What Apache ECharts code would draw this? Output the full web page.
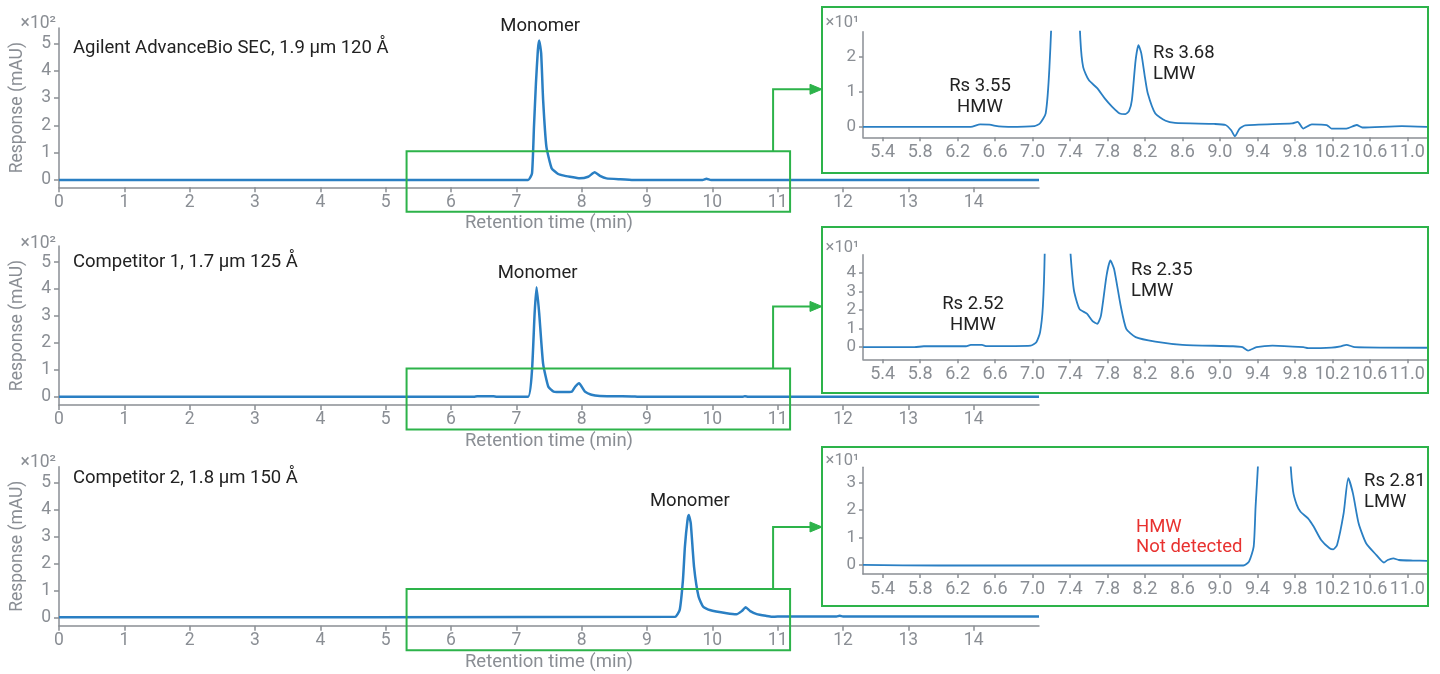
<!DOCTYPE html>
<html>
<head>
<meta charset="utf-8">
<script src="https://cdn.jsdelivr.net/npm/echarts@6/dist/echarts.min.js"></script>
<style>
html,body{margin:0;padding:0;background:#fff;}
#chart{width:1440px;height:674px;}
</style>
</head>
<body>
<div id="chart"></div>
<script>
// ---------------- DATA ----------------
const sampleNames = ['Agilent AdvanceBio SEC, 1.9 µm 120 Å', 'Competitor 1, 1.7 µm 125 Å', 'Competitor 2, 1.8 µm 150 Å'];
const mainXTicks = [0,1,2,3,4,5,6,7,8,9,10,11,12,13,14];
const mainYTicks = [0,100,200,300,400,500];           // mAU, shown ×10²
const insetXTicks = [5.4,5.8,6.2,6.6,7.0,7.4,7.8,8.2,8.6,9.0,9.4,9.8,10.2,10.6,11.0];
const insetYTicks1 = [0,10,20];                         // mAU, shown ×10¹
const insetYTicks2 = [0,10,20,30,40];
const insetYTicks3 = [0,10,20,30];

// full chromatograms [time (min), response (mAU)]
const agilentMain = [[0,0],[7.18,0],[7.24,24],[7.27,195],[7.30,354],[7.33,476],[7.35,510],[7.38,463],[7.41,293],[7.46,122],[7.54,43],[7.64,22],[7.73,16],[7.82,12],[7.97,6],[8.1,12],[8.2,28],[8.28,15],[8.38,6],[8.59,2.5],[8.79,0],[9.85,0],[9.91,5],[9.98,0],[15,0]];
const comp1Main = [[0,0],[6.35,0],[6.4,1.5],[6.65,1.5],[6.7,0],[7.18,0],[7.24,99],[7.28,310],[7.31,407],[7.35,310],[7.41,122],[7.49,37],[7.57,19],[7.72,17],[7.85,19],[7.9,37],[7.96,50],[8.05,19],[8.15,7],[8.28,3],[8.79,1],[8.85,0],[10.47,0],[10.5,2],[10.55,0],[15,0]];
const comp2Main = [[0,0],[9.43,2],[9.50,27],[9.55,138],[9.58,261],[9.62,360],[9.64,379],[9.67,348],[9.72,187],[9.79,76],[9.86,39],[9.96,27],[10.22,15],[10.37,11],[10.45,23],[10.51,37],[10.58,23],[10.68,12],[10.83,5],[10.91,2],[11.0,3],[11.9,3],[11.95,6],[12.0,3],[15,3]];

// zoomed chromatograms [time (min), response (mAU)]
const agilentZoom = [[5.19,0],[6.34,0],[6.44,0.7],[6.54,0.6],[6.64,0.1],[6.74,0],[7.02,0.2],[7.08,1],[7.14,3.8],[7.18,17],[7.21,40],[7.34,510],[7.46,300],[7.495,40],[7.51,25],[7.54,17],[7.6,13.3],[7.69,11],[7.77,8.1],[7.85,5.7],[7.93,3.8],[7.99,3.6],[8.03,4.5],[8.06,7.6],[8.1,19],[8.13,23.3],[8.16,21],[8.2,14],[8.23,9.5],[8.31,3.8],[8.42,1.7],[8.52,1.1],[8.94,0.8],[9.06,0.5],[9.12,-1],[9.16,-2.7],[9.21,-0.5],[9.27,0.4],[9.77,0.95],[9.83,1.4],[9.89,-0.5],[9.98,0.7],[10.14,0.5],[10.19,-0.5],[10.35,-0.5],[10.46,0.5],[10.52,-0.2],[10.94,0.2],[11.21,0]];
const comp1Zoom = [[5.19,0],[5.74,0],[5.84,0.5],[6.29,0.5],[6.34,1.2],[6.46,1.2],[6.51,0.6],[6.98,0.9],[7.04,2.7],[7.08,8],[7.11,22],[7.13,52],[7.24,400],[7.36,150],[7.4,55],[7.44,31],[7.5,20.6],[7.58,18],[7.64,14],[7.69,12.6],[7.73,17],[7.79,38.6],[7.83,46.6],[7.87,42],[7.94,22.4],[8.0,9.9],[8.1,5.4],[8.31,3],[8.6,1.3],[9.14,0.5],[9.24,0],[9.3,-1.8],[9.39,0],[9.56,0.9],[9.89,0],[9.94,-0.5],[10.19,-0.2],[10.29,0.5],[10.35,1.3],[10.44,0],[11.21,-0.3]];
const comp2Zoom = [[5.19,0],[6.0,-0.2],[9.25,-0.2],[9.31,1.2],[9.36,6.7],[9.38,21],[9.41,40],[9.56,380],[9.72,100],[9.75,40],[9.78,27],[9.82,21.9],[9.86,19.4],[9.94,17],[10.0,14],[10.08,9.1],[10.17,6.1],[10.21,5.7],[10.25,7.3],[10.32,18.8],[10.37,31.6],[10.42,26],[10.48,15.2],[10.56,7.9],[10.67,3.6],[10.75,0.9],[10.79,1.8],[10.85,2.4],[10.91,1.8],[11.06,1.6],[11.21,1.5]];

const zoomWindow = [5.32, 11.19];   // min, region enlarged in the insets

// ---------------- STYLE / LAYOUT ----------------
const GRAY = '#8a8e94', BLUE = '#2a7fc3', GREEN = '#2db34a', DARK = '#222222', RED = '#e8312f';
const FONT = 'Roboto';
const mainGrids = [{top:28,height:159.3},{top:246,height:159},{top:466.7,height:159}];
const mainYRange = [[-26.7,556],[-30.9,560],[-31,558]];
const insetGrids = [{top:31.7,height:105.6},{top:254.7,height:104.6},{top:467.3,height:106.7}];
const insetYRange = [[-3,27.1],[-6.5,49.7],[-3.3,35.6]];
const insetYTicks = [insetYTicks1, insetYTicks2, insetYTicks3];
const mainData = [agilentMain, comp1Main, comp2Main];
const zoomData = [agilentZoom, comp1Zoom, comp2Zoom];

const grids = [], xAxes = [], yAxes = [], series = [];
for (let i = 0; i < 3; i++) {
  grids.push({left:59, width:980, top:mainGrids[i].top, height:mainGrids[i].height, outerBoundsMode:'none'});
  xAxes.push({
    type:'value', gridIndex:i, min:0, max:15,
    axisLine:{show:true, onZero:false, lineStyle:{color:GRAY, width:1.5}},
    axisTick:{show:true, length:5, customValues:mainXTicks, lineStyle:{color:GRAY, width:1.5}},
    axisLabel:{customValues:mainXTicks, color:GRAY, fontSize:17.5, fontFamily:FONT, margin:6},
    splitLine:{show:false},
    name:'Retention time (min)', nameLocation:'middle', nameGap:27,
    nameTextStyle:{color:GRAY, fontSize:18.5, fontFamily:FONT}
  });
  yAxes.push({
    type:'value', gridIndex:i, min:mainYRange[i][0], max:mainYRange[i][1],
    axisLine:{show:true, lineStyle:{color:GRAY, width:1.5}},
    axisTick:{show:true, length:5, customValues:mainYTicks, lineStyle:{color:GRAY, width:1.5}},
    axisLabel:{customValues:mainYTicks, color:GRAY, fontSize:17.5, fontFamily:FONT, margin:8, formatter:v => String(Math.round(v/100))},
    splitLine:{show:false},
    name:'Response (mAU)', nameLocation:'middle', nameGap:32, nameRotate:90,
    nameTextStyle:{color:GRAY, fontSize:17.5, fontFamily:FONT}
  });
  series.push({type:'line', xAxisIndex:i, yAxisIndex:i, data:mainData[i], showSymbol:false, clip:true,
    smooth:0.15,
    lineStyle:{color:BLUE, width:2.5}, itemStyle:{color:BLUE}});
}
for (let i = 0; i < 3; i++) {
  const k = 3 + i;
  grids.push({left:863, width:564, top:insetGrids[i].top, height:insetGrids[i].height, outerBoundsMode:'none'});
  xAxes.push({
    type:'value', gridIndex:k, min:5.19, max:11.21,
    axisLine:{show:true, onZero:false, lineStyle:{color:GRAY, width:1.5}},
    axisTick:{show:true, length:4, customValues:insetXTicks, lineStyle:{color:GRAY, width:1.5}},
    axisLabel:{customValues:insetXTicks, color:GRAY, fontSize:18, fontFamily:FONT, margin:6, formatter:v => v.toFixed(1)},
    splitLine:{show:false}
  });
  yAxes.push({
    type:'value', gridIndex:k, min:insetYRange[i][0], max:insetYRange[i][1],
    axisLine:{show:true, lineStyle:{color:GRAY, width:1.5}},
    axisTick:{show:true, length:4, customValues:insetYTicks[i], lineStyle:{color:GRAY, width:1.5}},
    axisLabel:{customValues:insetYTicks[i], color:GRAY, fontSize:17, fontFamily:FONT, margin:7, formatter:v => String(Math.round(v/10))},
    splitLine:{show:false}
  });
  series.push({type:'line', xAxisIndex:k, yAxisIndex:k, data:zoomData[i], showSymbol:false, clip:true,
    smooth:0.2,
    lineStyle:{color:BLUE, width:1.8}, itemStyle:{color:BLUE}});
}

const chart = echarts.init(document.getElementById('chart'), null, {renderer:'canvas'});
chart.setOption({
  animation:false,
  backgroundColor:'#ffffff',
  grid:grids, xAxis:xAxes, yAxis:yAxes, series:series
});

// ---------------- ANNOTATIONS ----------------
function txt(x, y, text, opt) {
  return {type:'text', x:x, y:y, silent:true, z:100, style:Object.assign({
    text:text, fill:DARK, fontSize:18.5, fontFamily:FONT, align:'left', verticalAlign:'middle'
  }, opt || {})};
}
const g = [];
const insetFrames = [[822,7,606,166],[822,227,606,166],[822,447,606,159]];
const nameY = [48, 262, 478];
const monomerPos = [[7.35,510],[7.31,407],[9.64,379]];
const sciMainY = [24, 244, 463];
const sciInsetY = [23, 248, 461];
for (let i = 0; i < 3; i++) {
  const axisBottom = mainGrids[i].top + mainGrids[i].height;
  const p1 = chart.convertToPixel({xAxisIndex:i, yAxisIndex:i}, [zoomWindow[0], 105]);
  const p2 = chart.convertToPixel({xAxisIndex:i, yAxisIndex:i}, [zoomWindow[1], 105]);
  const cx = chart.convertToPixel({xAxisIndex:i, yAxisIndex:i}, [10.93, 105])[0];
  const boxTop = p1[1];
  g.push({type:'rect', silent:true, z:50, shape:{x:p1[0], y:boxTop, width:p2[0]-p1[0], height:axisBottom + 24.5 - boxTop},
    style:{fill:'none', stroke:GREEN, lineWidth:2}});
  const f = insetFrames[i];
  g.push({type:'rect', silent:true, z:50, shape:{x:f[0], y:f[1], width:f[2], height:f[3]},
    style:{fill:'none', stroke:GREEN, lineWidth:2}});
  const ay = boxTop - 62;
  g.push({type:'polyline', silent:true, z:50, shape:{points:[[cx, boxTop],[cx, ay],[f[0]-10, ay]]},
    style:{fill:'none', stroke:GREEN, lineWidth:2}});
  g.push({type:'polygon', silent:true, z:50, shape:{points:[[f[0]-12, ay-5],[f[0], ay],[f[0]-12, ay+5]]},
    style:{fill:GREEN, stroke:GREEN, lineWidth:1}});
  // texts
  g.push(txt(73, nameY[i], sampleNames[i]));
  const mp = chart.convertToPixel({xAxisIndex:i, yAxisIndex:i}, monomerPos[i]);
  g.push(txt(mp[0] + 1, mp[1] - 14, 'Monomer', {align:'center'}));
  g.push(txt(56, sciMainY[i], '×10²', {fill:GRAY, fontSize:17.5, align:'right'}));
  g.push(txt(859, sciInsetY[i], '×10¹', {fill:GRAY, fontSize:16.5, align:'right'}));
}
g.push(txt(980, 97, 'Rs 3.55\nHMW', {align:'center', lineHeight:21}));
g.push(txt(1153, 63.5, 'Rs 3.68\nLMW', {lineHeight:21}));
g.push(txt(973, 315, 'Rs 2.52\nHMW', {align:'center', lineHeight:21}));
g.push(txt(1131, 280.5, 'Rs 2.35\nLMW', {lineHeight:21}));
g.push(txt(1136, 537.5, 'HMW\nNot detected', {fill:RED, lineHeight:20}));
g.push(txt(1364, 492, 'Rs 2.81\nLMW', {lineHeight:21}));
chart.setOption({graphic:{elements:g}});
</script>
</body>
</html>
